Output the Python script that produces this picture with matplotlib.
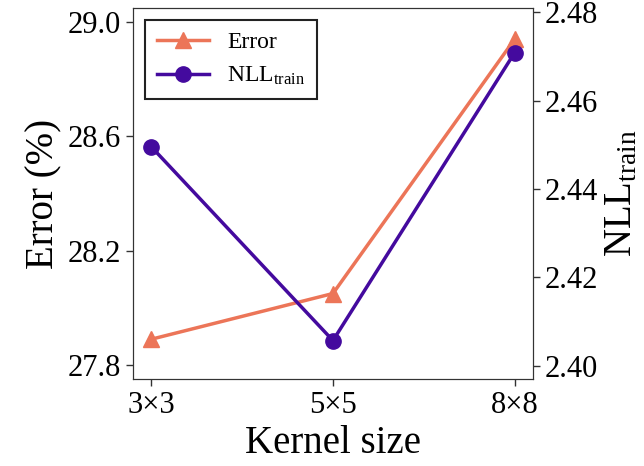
import matplotlib
matplotlib.use("Agg")
import matplotlib.pyplot as plt

plt.rcParams['font.family'] = ['Liberation Serif', 'DejaVu Serif']
plt.rcParams['mathtext.fontset'] = 'custom'
plt.rcParams['mathtext.rm'] = 'Liberation Serif'
plt.rcParams['mathtext.it'] = 'Liberation Serif:italic'

# data
kernels = ['3×3', '5×5', '8×8']
error = [27.89, 28.05, 28.94]
nll_train = [2.4496, 2.4057, 2.4709]

c_err = '#ec7558'
c_nll = '#440a9e'

fig = plt.figure(figsize=(6.44, 4.66), dpi=100)
ax = fig.add_axes([0.2065, 0.1867, 0.621, 0.7963])
ax2 = ax.twinx()

x = range(len(kernels))
l1, = ax.plot(x, error, color=c_err, marker='^', markersize=12, linewidth=2.5, label='Error')
l2, = ax2.plot(x, nll_train, color=c_nll, marker='o', markersize=11, linewidth=2.5,
               label=r'NLL$_{\mathrm{train}}$')

ax.set_xticks(list(x))
ax.set_xticklabels(kernels)
ax.set_ylim(27.751, 29.049)
ax.set_yticks([27.8, 28.2, 28.6, 29.0])
ax2.set_ylim(2.397, 2.481)
ax2.set_yticks([2.40, 2.42, 2.44, 2.46, 2.48])

ax.set_xlabel('Kernel size', fontsize=28)
ax.set_ylabel('Error (%)', fontsize=28)
ax2.set_ylabel(r'NLL$_{\mathrm{train}}$', fontsize=28)

for a in (ax, ax2):
    a.tick_params(labelsize=22, length=5, width=1, color='#333333')
    for s in a.spines.values():
        s.set_color('#333333')

leg = ax.legend(handles=[l1, l2], loc='upper left', fontsize=17, fancybox=False,
                edgecolor='#222222', framealpha=1, borderpad=0.5, handlelength=2.2)
leg.get_frame().set_linewidth(1.5)

fig.savefig('out.png', dpi=100)
